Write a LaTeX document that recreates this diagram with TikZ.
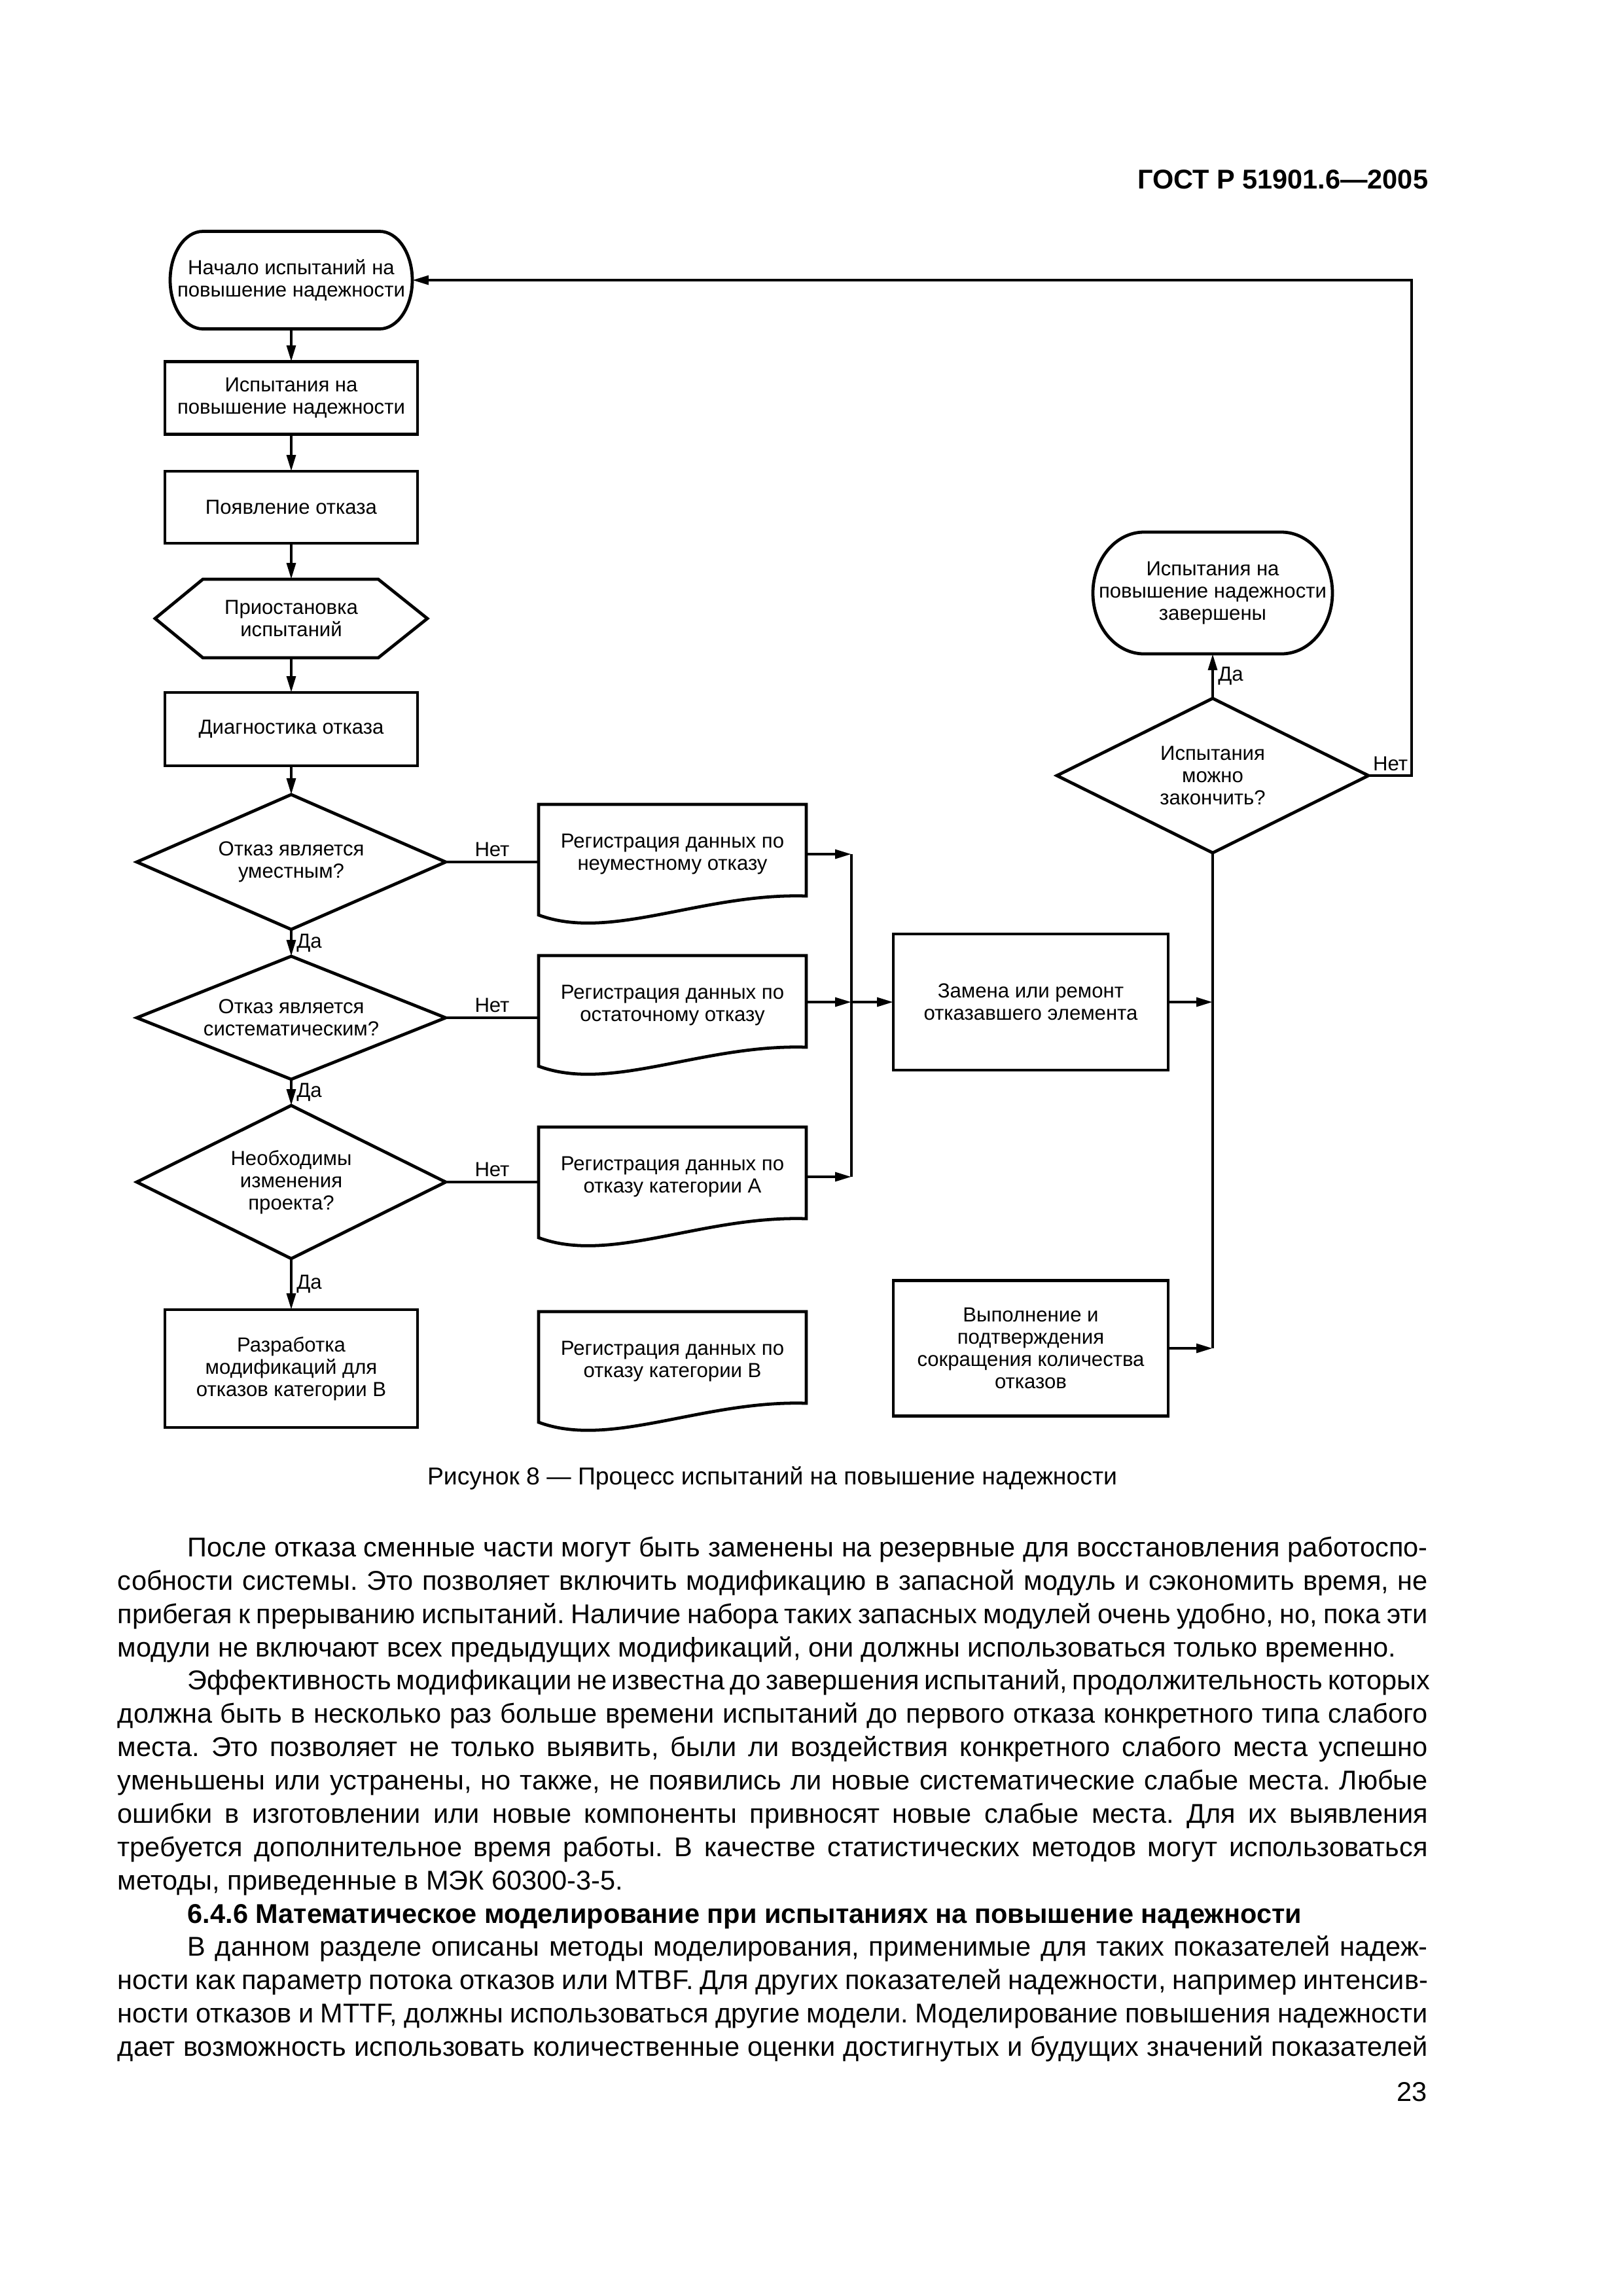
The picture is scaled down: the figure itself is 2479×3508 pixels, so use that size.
\documentclass[tikz,border=0pt]{standalone}
\usepackage{fontspec}
\setmainfont{Liberation Sans}
\usetikzlibrary{shapes.geometric,arrows.meta}
\newdimen\PX \PX=0.08471mm
\newdimen\BW \BW=2002\PX
\newcommand\flfont{\fontsize{7.5}{8.2}\selectfont}
\newcommand\JL[1]{\hbox to\BW{#1}}
\newcommand\RL[1]{\hbox to\BW{#1\hfil}}
\newcommand\drawdoc[1]{\draw[shp] (#1.north west) -- (#1.north east) -- ([yshift=-140\PX]#1.north east)
  .. controls ([xshift=-159\PX,yshift=-135\PX]#1.north east) and ([xshift=110\PX,yshift=-210\PX]#1.north west)
  .. ([yshift=-169\PX]#1.north west) -- cycle;}
\newcommand\drawdia[1]{\draw[shp] (#1.north) -- (#1.east) -- (#1.south) -- (#1.west) -- cycle;}
\frenchspacing
\begin{document}
\begin{tikzpicture}[x=0.08471mm,y=-0.08471mm,
  shp/.style={line width=1.15pt, line join=miter},
  lnk/.style={line width=1pt},
  arr/.style={lnk,-{Triangle[length=2.1mm,width=1.15mm]}},
  box/.style={draw, shp, rectangle, minimum width=386\PX, inner sep=0, outer sep=0, align=center, font=\flfont},
  inv/.style={rectangle, inner sep=0, outer sep=0, align=center, font=\flfont},
  dia/.style={inv, minimum width=472\PX},
  lbl/.style={font=\flfont, inner sep=1.5pt},
  bl/.style={anchor=base west, inner sep=0, font=\fontsize{10}{12}\selectfont}
]
\fill[white] (0,0) rectangle (2479,3508);
\useasboundingbox (0,0) rectangle (2479,3508);

% header
\node[anchor=base east, inner sep=0, font=\fontsize{10}{12}\selectfont\bfseries] (hdr) at (2183,288) {ГОСТ Р 51901.6—2005};

% left column
\node[inv, minimum width=370\PX, minimum height=149\PX] (start) at (445,428) {Начало испытаний на\\повышение надежности};
\draw[shp] ([xshift=50\PX]start.north west) -- ([xshift=-50\PX]start.north east)
  arc[start angle=90,end angle=-90,x radius=50\PX,y radius=74.5\PX]
  -- ([xshift=50\PX]start.south west)
  arc[start angle=270,end angle=90,x radius=50\PX,y radius=74.5\PX] -- cycle;
\node[box, minimum height=111\PX] (b2) at (445,608) {Испытания на\\повышение надежности};
\node[box, minimum height=110\PX] (b3) at (445,775) {Появление отказа};
\node[inv, minimum width=416\PX, minimum height=120\PX] (hex) at (445,945) {Приостановка\\испытаний};
\draw[shp] (hex.west) -- ([xshift=73\PX]hex.north west) -- ([xshift=-75\PX]hex.north east) -- (hex.east)
  -- ([xshift=-75\PX]hex.south east) -- ([xshift=73\PX]hex.south west) -- cycle;
\node[box, minimum height=112\PX] (diag) at (445,1114) {Диагностика отказа};
\node[dia, minimum height=206\PX] (d1) at (445,1317) {Отказ является\\уместным?};
\node[dia, minimum height=188\PX] (d2) at (445,1555) {Отказ является\\систематическим?};
\node[dia, minimum height=234\PX] (d3) at (445,1806) {Необходимы\\изменения\\проекта?};
\drawdia{d1}
\drawdia{d2}
\drawdia{d3}
\node[box, minimum height=180\PX] (razr) at (445,2091) {Разработка\\модификаций для\\отказов категории В};

% documents
\node[inv, minimum width=409\PX, minimum height=152\PX] (doc1) at (1027.5,1305) {Регистрация данных по\\неуместному отказу};
\node[inv, minimum width=409\PX, minimum height=152\PX] (doc2) at (1027.5,1536) {Регистрация данных по\\остаточному отказу};
\node[inv, minimum width=409\PX, minimum height=152\PX] (doc3) at (1027.5,1798) {Регистрация данных по\\отказу категории А};
\node[inv, minimum width=409\PX, minimum height=152\PX] (doc4) at (1027.5,2080) {Регистрация данных по\\отказу категории В};
\drawdoc{doc1}
\drawdoc{doc2}
\drawdoc{doc3}
\drawdoc{doc4}

% right part
\node[box, minimum width=420\PX, minimum height=208\PX] (zam) at (1575,1531) {Замена или ремонт\\отказавшего элемента};
\node[box, minimum width=420\PX, minimum height=207\PX] (vyp) at (1575,2060) {Выполнение и\\подтверждения\\сокращения количества\\отказов};
\node[inv, minimum width=476\PX, minimum height=236\PX] (d4) at (1853,1185) {Испытания\\можно\\закончить?};
\drawdia{d4}
\node[inv, minimum width=366\PX, minimum height=186\PX] (fin) at (1853,906) {Испытания на\\повышение надежности\\завершены};
\draw[shp] ([xshift=78\PX]fin.north west) -- ([xshift=-78\PX]fin.north east)
  arc[start angle=90,end angle=-90,x radius=78\PX,y radius=93\PX]
  -- ([xshift=78\PX]fin.south west)
  arc[start angle=270,end angle=90,x radius=78\PX,y radius=93\PX] -- cycle;
\coordinate (coll) at (1301,1305);
\coordinate (loopc) at (2157,428);

% connectors
\draw[arr] (start.south) -- (b2.north);
\draw[arr] (b2.south) -- (b3.north);
\draw[arr] (b3.south) -- (hex.north);
\draw[arr] (hex.south) -- (diag.north);
\draw[arr] (diag.south) -- (d1.north);
\draw[arr] (d1.south) -- node[lbl, right] (da1) {Да} (d2.north);
\draw[arr] (d2.south) -- node[lbl, right] (da2) {Да} (d3.north);
\draw[arr] (d3.south) -- node[lbl, right] (da3) {Да} (razr.north);
\draw[lnk] (d1.east) -- node[lbl, above] (net1) {Нет} (d1.east -| doc1.west);
\draw[lnk] (d2.east) -- node[lbl, above] (net2) {Нет} (d2.east -| doc2.west);
\draw[lnk] (d3.east) -- node[lbl, above] (net3) {Нет} (d3.east -| doc3.west);
\draw[lnk] (coll |- doc1.east) -- (coll |- doc3.east);
\draw[arr] (doc1.east) -- (coll |- doc1.east);
\draw[arr] (doc2.east |- zam.west) -- (coll |- zam.west);
\draw[arr] (doc3.east) -- (coll |- doc3.east);
\draw[arr] (coll |- zam.west) -- (zam.west);
\draw[arr] (zam.east) -- (zam.east -| d4.south);
\draw[arr] (vyp.east) -- (vyp.east -| d4.south);
\draw[lnk] (vyp.east -| d4.south) -- (d4.south);
\draw[arr] (d4.north) -- node[lbl, right] (da4) {Да} (fin.south);
\draw[arr] (d4.east) -| (loopc) -- (start.east);
\node[lbl, anchor=south west] (net4) at (d4.east) {Нет};

% caption
\node[anchor=base, inner sep=0, font=\fontsize{9}{11}\selectfont] (cap) at (1180,2268) {Рисунок 8 — Процесс испытаний на повышение надежности};

% body text
\node[bl] (t1) at (179,2378) {\JL{\kern107\PX После отказа сменные части могут быть заменены на резервные для восстановления работоспо-}};
\node[bl] (t2) at (179,2429) {\JL{собности системы. Это позволяет включить модификацию в запасной модуль и сэкономить время, не}};
\node[bl] (t3) at (179,2480) {\JL{прибегая к прерыванию испытаний. Наличие набора таких запасных модулей очень удобно, но, пока эти}};
\node[bl] (t4) at (179,2531) {\RL{модули не включают всех предыдущих модификаций, они должны использоваться только временно.}};
\node[bl] (t5) at (179,2581) {\JL{\kern107\PX Эффективность модификации не известна до завершения испытаний, продолжительность которых}};
\node[bl] (t6) at (179,2632) {\JL{должна быть в несколько раз больше времени испытаний до первого отказа конкретного типа слабого}};
\node[bl] (t7) at (179,2683) {\JL{места. Это позволяет не только выявить, были ли воздействия конкретного слабого места успешно}};
\node[bl] (t8) at (179,2734) {\JL{уменьшены или устранены, но также, не появились ли новые систематические слабые места. Любые}};
\node[bl] (t9) at (179,2785) {\JL{ошибки в изготовлении или новые компоненты привносят новые слабые места. Для их выявления}};
\node[bl] (t10) at (179,2836) {\JL{требуется дополнительное время работы. В качестве статистических методов могут использоваться}};
\node[bl] (t11) at (179,2887) {\RL{методы, приведенные в МЭК 60300-3-5.}};
\node[bl, font=\fontsize{10}{12}\selectfont\bfseries] (t12) at (179,2938) {\RL{\kern107\PX 6.4.6 Математическое моделирование при испытаниях на повышение надежности}};
\node[bl] (t13) at (179,2988) {\JL{\kern107\PX В данном разделе описаны методы моделирования, применимые для таких показателей надеж-}};
\node[bl] (t14) at (179,3039) {\JL{ности как параметр потока отказов или MTBF. Для других показателей надежности, например интенсив-}};
\node[bl] (t15) at (179,3090) {\JL{ности отказов и MTTF, должны использоваться другие модели. Моделирование повышения надежности}};
\node[bl] (t16) at (179,3141) {\JL{дает возможность использовать количественные оценки достигнутых и будущих значений показателей}};

\node[anchor=base east, inner sep=0, font=\fontsize{10}{12}\selectfont] (pg) at (2181,3210) {23};
\end{tikzpicture}
\end{document}
